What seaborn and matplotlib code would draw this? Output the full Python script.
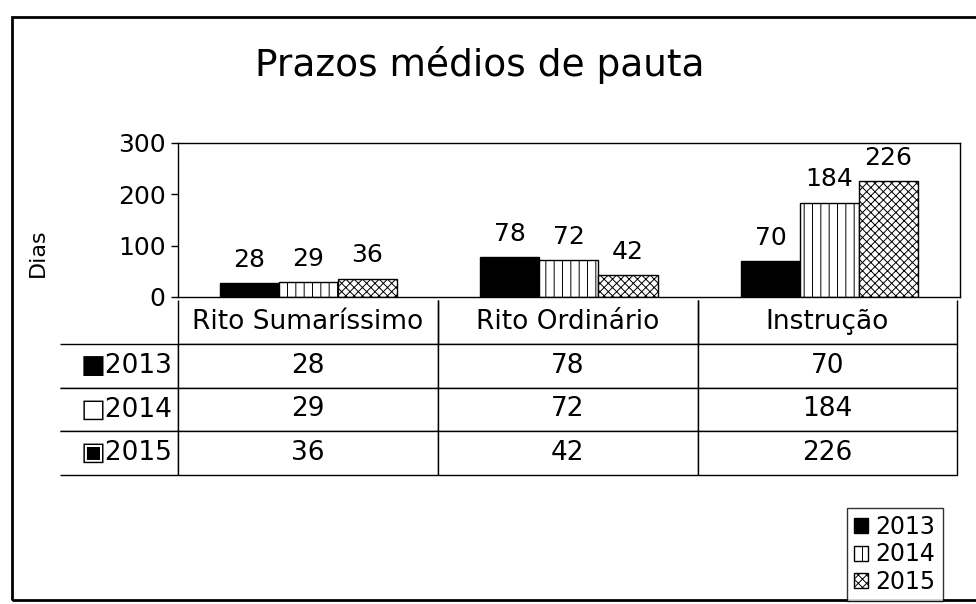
import matplotlib
matplotlib.use('Agg')
import matplotlib.pyplot as plt
from matplotlib.patches import Patch, Rectangle
from matplotlib.table import Table
import pandas as pd
import seaborn as sns

# dados
categorias = ['Rito Sumaríssimo', 'Rito Ordinário', 'Instrução']
anos = ['2013', '2014', '2015']
dias_2013 = [28, 78, 70]
dias_2014 = [29, 72, 184]
dias_2015 = [36, 42, 226]
series = [dias_2013, dias_2014, dias_2015]

cores = ['black', 'white', 'white']
hachuras = ['', '||', 'xxxx']
simbolos = ['■', '□', '▣']

df = pd.DataFrame({
    'categoria': categorias * 3,
    'ano': [a for a in anos for _ in categorias],
    'dias': dias_2013 + dias_2014 + dias_2015,
})

sns.set_style('white')
plt.rcParams['font.family'] = ['DejaVu Sans']
plt.rcParams['hatch.linewidth'] = 0.7
plt.rcParams['text.color'] = 'black'
plt.rcParams['axes.labelcolor'] = 'black'
plt.rcParams['ytick.color'] = 'black'

fig = plt.figure(figsize=(9.76, 6.04), dpi=100)
ax = fig.add_axes([0.1824, 0.5083, 0.801, 0.255])

sns.barplot(data=df, x='categoria', y='dias', hue='ano', order=categorias,
            hue_order=anos, palette=cores, saturation=1, width=0.68, gap=0,
            edgecolor='black', linewidth=1, legend=False, ax=ax)

for cont, h in zip(ax.containers, hachuras):
    for barra in cont:
        barra.set_hatch(h)
    ax.bar_label(cont, fmt='%d', padding=8, fontsize=18)

ax.set_xlim(-0.5, 2.5)
ax.set_ylim(0, 300)
ax.set_yticks([0, 100, 200, 300])
ax.set_xticks([])
ax.set_xlabel('')
ax.set_ylabel('Dias', fontsize=16)
ax.yaxis.set_label_coords(-0.167, 0.29)
ax.tick_params(axis='y', left=True, direction='out', length=5, width=1,
               labelsize=18, pad=4)
for s in ax.spines.values():
    s.set_color('black')
    s.set_linewidth(1)

# tabela de dados abaixo do gráfico (coluna 0 = rótulos das séries)
tabela = Table(ax, bbox=[-0.151, -1.156, 1.148, 1.136])
for j, cat in enumerate(categorias):
    c = tabela.add_cell(0, j + 1, width=260, height=1, text=cat, loc='center')
    c.visible_edges = 'LRB'
for i, (ano, serie) in enumerate(zip(anos, series)):
    c = tabela.add_cell(i + 1, 0, width=118, height=1,
                        text=f'{simbolos[i]}{ano}', loc='right')
    c.visible_edges = 'TBR'
    for j, v in enumerate(serie):
        tabela.add_cell(i + 1, j + 1, width=260, height=1, text=str(v),
                        loc='center')
tabela.auto_set_font_size(False)
tabela.set_fontsize(19)
for cell in tabela.get_celld().values():
    cell.set_linewidth(1)
    cell.set_edgecolor('black')
    cell.PAD = 0.05
ax.add_table(tabela)

fig.text(0.492, 1 - 65 / 604, 'Prazos médios de pauta', ha='center',
         va='center', fontsize=27)

handles = [Patch(facecolor=c, edgecolor='black', hatch=h)
           for c, h in zip(cores, hachuras)]
fig.legend(handles, anos, loc='lower left', bbox_to_anchor=(847 / 976, 0.005),
           frameon=True, fancybox=False, edgecolor='black', fontsize=17,
           handlelength=0.6, handleheight=0.6, handletextpad=0.3,
           labelspacing=0.15, borderpad=0.3, borderaxespad=0)

fig.patches.append(Rectangle((12 / 976, 4 / 604), 1.0, 0.966, fill=False,
                             edgecolor='black', linewidth=2,
                             transform=fig.transFigure))

fig.savefig('out.png', dpi=100)
